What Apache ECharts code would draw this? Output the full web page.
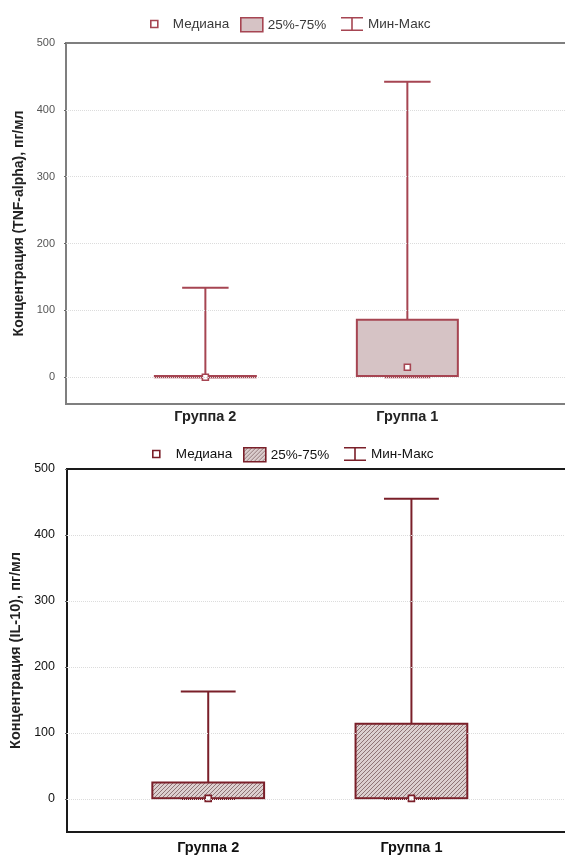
<!DOCTYPE html>
<html><head><meta charset="utf-8">
<script src="https://cdn.jsdelivr.net/npm/echarts@6/dist/echarts.min.js"></script>
<style>html,body{margin:0;padding:0;background:#fff}#c{width:565px;height:856px}</style>
</head><body><div id="c"></div>
<script>
// ---- data ----
var groups = ['Группа 2', 'Группа 1'];
var groupX = [1, 2];
var yTicks = [0, 100, 200, 300, 400, 500];
// TNF-alpha, pg/ml
var tnfMin = [0, 0];
var tnfQ1 = [0, 2];
var tnfMed = [0, 15];
var tnfQ3 = [2, 86];
var tnfMax = [134, 442];
// IL-10, pg/ml
var ilMin = [0, 0];
var ilQ1 = [1, 1];
var ilMed = [1, 1];
var ilQ3 = [25, 114];
var ilMax = [163, 455];
var legendNames = ['Медиана', '25%-75%', 'Мин-Макс'];

function rows(mn, q1, md, q3, mx) {
  return groupX.map(function (x, i) { return [x, mn[i], q1[i], md[i], q3[i], mx[i]]; });
}

// hatch pattern for lower chart
function hatch() {
  var c = document.createElement('canvas');
  c.width = 4; c.height = 4;
  var g = c.getContext('2d');
  g.fillStyle = '#dccfcf'; g.fillRect(0, 0, 4, 4);
  g.strokeStyle = '#8f7475'; g.lineWidth = 1;
  g.beginPath();
  g.moveTo(-1, 5); g.lineTo(5, -1);
  g.moveTo(-1, 1); g.lineTo(1, -1);
  g.moveTo(3, 5); g.lineTo(5, 3);
  g.stroke();
  return c;
}
var hatchFill = { image: hatch(), repeat: 'repeat' };

function makeRender(boxW, capW, lineColor, fill, lw) {
  return function (params, api) {
    var x = api.value(0);
    var pMin = api.coord([x, api.value(1)]);
    var pQ1 = api.coord([x, api.value(2)]);
    var pMed = api.coord([x, api.value(3)]);
    var pQ3 = api.coord([x, api.value(4)]);
    var pMax = api.coord([x, api.value(5)]);
    var hb = api.size([boxW, 0])[0] / 2;
    var hc = api.size([capW, 0])[0] / 2;
    var ls = { stroke: lineColor, lineWidth: lw };
    return {
      type: 'group',
      children: [
        { type: 'line', shape: { x1: pMax[0], y1: pMax[1], x2: pQ3[0], y2: pQ3[1] }, style: ls },
        { type: 'line', shape: { x1: pQ1[0], y1: pQ1[1], x2: pMin[0], y2: pMin[1] }, style: ls },
        { type: 'line', shape: { x1: pMax[0] - hc, y1: pMax[1], x2: pMax[0] + hc, y2: pMax[1] }, style: ls },
        { type: 'line', shape: { x1: pMin[0] - hc, y1: pMin[1], x2: pMin[0] + hc, y2: pMin[1] }, style: ls },
        { type: 'rect', shape: { x: pQ3[0] - hb, y: pQ3[1], width: hb * 2, height: Math.max(pQ1[1] - pQ3[1], 0.5) },
          style: { fill: fill, stroke: lineColor, lineWidth: lw } },
        { type: 'rect', shape: { x: pMed[0] - 3, y: pMed[1] - 3, width: 6, height: 6 },
          style: { fill: '#ffffff', stroke: lineColor, lineWidth: 1.6 } }
      ]
    };
  };
}

var FONT = 'Liberation Sans, Arial, sans-serif';
var topLine = '#a64552', topFill = '#d6c3c5';
var botLine = '#7a1f29';
var whiskerIcon = 'path://M0,0H22V1.6H11.8V12.4H22V14H0V12.4H10.2V1.6H0Z';

function legendSet(top, lefts, fontSize, color, lineC, boxFill, pad) {
  var common = { top: top, padding: 0, selectedMode: false };
  return [
    Object.assign({ left: lefts[0], itemWidth: 7, itemHeight: 7, data: [{ name: legendNames[0], icon: 'rect',
        itemStyle: { color: '#fff', borderColor: lineC, borderWidth: 1.6 } }],
      textStyle: { fontFamily: FONT, fontSize: fontSize, color: color, padding: [0, 0, 0, pad] } }, common),
    Object.assign({ left: lefts[1], itemWidth: 22, itemHeight: 14, data: [{ name: legendNames[1], icon: 'rect',
        itemStyle: { color: boxFill, borderColor: lineC, borderWidth: 1.6 } }],
      textStyle: { fontFamily: FONT, fontSize: fontSize, color: color } }, common),
    Object.assign({ left: lefts[2], itemWidth: 22, itemHeight: 14, data: [{ name: legendNames[2], icon: whiskerIcon,
        itemStyle: { color: lineC, borderWidth: 0 } }],
      textStyle: { fontFamily: FONT, fontSize: fontSize, color: color } }, common)
  ];
}

function xAxisCfg(gi, min, max, fs, margin, color) {
  return {
    type: 'value', gridIndex: gi, min: min, max: max,
    axisLine: { show: false }, splitLine: { show: false },
    axisTick: { show: true, inside: true, length: 3, customValues: groupX, lineStyle: { color: '#444' } },
    axisLabel: { customValues: groupX, margin: margin, fontFamily: FONT, fontSize: fs, fontWeight: 'bold', color: color,
      formatter: function (v) { var i = groupX.indexOf(v); return i >= 0 ? groups[i] : ''; } }
  };
}
function yAxisCfg(gi, min, name, fs, color, margin, nameFs, nameGap) {
  return {
    type: 'value', gridIndex: gi, min: min, max: 500,
    axisLine: { show: false }, splitLine: { show: false },
    axisTick: { show: true, length: 2, customValues: yTicks, lineStyle: { color: '#666' } },
    axisLabel: { customValues: yTicks, margin: margin, fontFamily: FONT, fontSize: fs, color: color },
    name: name, nameLocation: 'middle', nameGap: nameGap, nameRotate: 90,
    nameTextStyle: { fontFamily: FONT, fontSize: nameFs, fontWeight: 'bold', color: '#222' }
  };
}

function gridLines(xi, yi) {
  return {
    type: 'line', xAxisIndex: xi, yAxisIndex: yi, data: [], z: 0, silent: true,
    markLine: { silent: true, symbol: 'none', label: { show: false }, animation: false,
      lineStyle: { color: '#dcdcdc', type: 'dotted', width: 1 },
      data: yTicks.filter(function (v) { return v < 500; }).map(function (v) { return { yAxis: v }; }) }
  };
}

var option = {
  animation: false,
  backgroundColor: '#ffffff',
  grid: [
    { left: 66, top: 43, width: 509, height: 361, outerBoundsMode: 'none', containLabel: false, show: true, borderColor: '#7f7f7f', borderWidth: 2, backgroundColor: 'transparent' },
    { left: 67, top: 469, width: 508, height: 363, outerBoundsMode: 'none', containLabel: false, show: true, borderColor: '#1a1a1a', borderWidth: 2, backgroundColor: 'transparent' }
  ],
  legend: legendSet(17, [150, 240, 341], 13.5, '#3a3a3a', topLine, topFill, 10)
    .concat(legendSet(447, [152, 243, 344], 13.5, '#111', botLine, hatchFill, 11)),
  xAxis: [
    xAxisCfg(0, 0.31, 2.83, 14.5, 5, '#222'),
    xAxisCfg(1, 0.305, 2.805, 14.5, 8, '#111')
  ],
  yAxis: [
    yAxisCfg(0, -40, 'Концентрация (TNF-alpha), пг/мл', 11, '#555', 11, 14, 39),
    yAxisCfg(1, -50, 'Концентрация (IL-10), пг/мл', 12.5, '#111', 12, 14.5, 36)
  ],
  series: [
    gridLines(0, 0), gridLines(1, 1),
    { type: 'custom', name: '25%-75%', xAxisIndex: 0, yAxisIndex: 0, z: 3,
      encode: { x: 0, y: [1, 2, 3, 4, 5] },
      renderItem: makeRender(0.5, 0.23, topLine, topFill, 2),
      data: rows(tnfMin, tnfQ1, tnfMed, tnfQ3, tnfMax) },
    { type: 'custom', name: '25%-75%', xAxisIndex: 1, yAxisIndex: 1, z: 3,
      encode: { x: 0, y: [1, 2, 3, 4, 5] },
      renderItem: makeRender(0.55, 0.27, botLine, hatchFill, 2),
      data: rows(ilMin, ilQ1, ilMed, ilQ3, ilMax) },
    { type: 'line', name: 'Медиана', xAxisIndex: 0, yAxisIndex: 0, data: [] },
    { type: 'line', name: 'Мин-Макс', xAxisIndex: 0, yAxisIndex: 0, data: [] }
  ]
};
var chart = echarts.init(document.getElementById('c'), null, { renderer: 'canvas' });
chart.setOption(option);
</script></body></html>
